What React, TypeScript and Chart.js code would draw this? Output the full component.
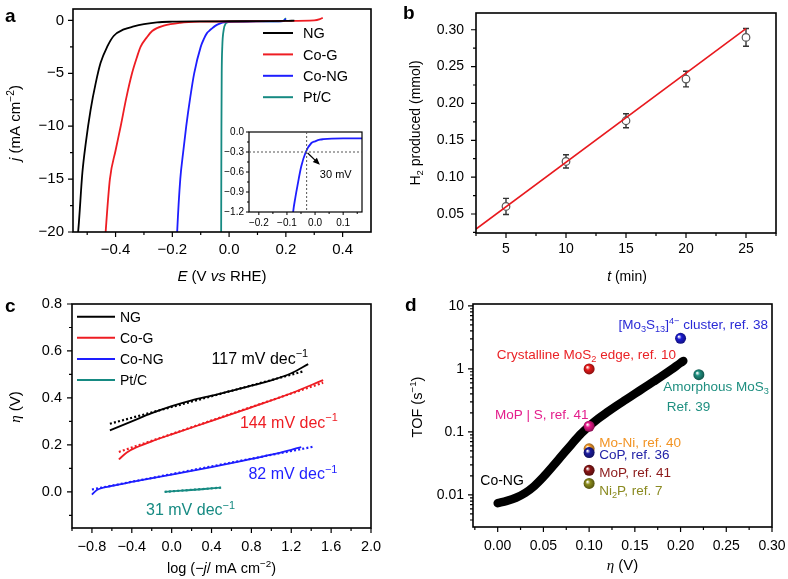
import React, { useEffect, useRef } from 'react';
import { Chart, registerables } from 'chart.js';

Chart.register(...registerables);

const SANS = "'Liberation Sans', Arial, Helvetica, sans-serif";
const SERIF = "'Liberation Serif', 'Times New Roman', serif";

/* ---------------- Panel a : polarisation curves ---------------- */
const aSeries = ['NG', 'Co-G', 'Co-NG', 'Pt/C'];
const aColors = ['#000000', '#ee1d23', '#1e1eff', '#168a82'];
const ngE = [-0.55, -0.532, -0.517, -0.505, -0.488, -0.47, -0.453, -0.429, -0.406, -0.371, -0.336, -0.3, -0.254, -0.2, -0.1, 0.0, 0.1, 0.2, 0.23];
const ngJ = [-23.0, -20.0, -14.4, -11.6, -8.45, -5.93, -4.03, -2.46, -1.45, -0.85, -0.57, -0.36, -0.18, -0.12, -0.09, -0.08, -0.07, -0.05, -0.02];
const coGE = [-0.44, -0.435, -0.42, -0.4, -0.382, -0.362, -0.342, -0.325, -0.312, -0.29, -0.271, -0.23, -0.172, -0.1, 0.0, 0.1, 0.2, 0.3, 0.32, 0.33];
const coGJ = [-22.0, -20.0, -15.0, -12.3, -10.0, -7.3, -5.0, -3.5, -2.5, -1.6, -1.0, -0.5, -0.22, -0.12, -0.1, -0.08, -0.05, 0.0, 0.12, 0.25];
const coNGE = [-0.186, -0.183, -0.172, -0.162, -0.151, -0.137, -0.123, -0.1, -0.088, -0.078, -0.07, -0.063, -0.049, -0.033, -0.013, 0.0, 0.017, 0.03, 0.06, 0.1, 0.167, 0.19, 0.2];
const coNGJ = [-22.0, -20.0, -15.0, -12.5, -10.0, -7.3, -5.0, -2.5, -1.7, -1.2, -0.98, -0.815, -0.515, -0.3, -0.165, -0.14, -0.115, -0.108, -0.1, -0.097, -0.095, -0.07, 0.15];
const ptE = [-0.029, -0.028, -0.027, -0.026, -0.024, -0.019, -0.012, -0.003, 0.006, 0.05, 0.1, 0.15, 0.19, 0.2];
const ptJ = [-22.0, -20.0, -10.0, -5.0, -2.5, -0.9, -0.3, -0.17, -0.13, -0.1, -0.09, -0.08, -0.06, 0.22];
const aXMajor = [-0.4, -0.2, 0.0, 0.2, 0.4];
const aXMinor = [-0.5, -0.3, -0.1, 0.1, 0.3];
const aYMajor = [0, -5, -10, -15, -20];
const aYMinor = [-2.5, -7.5, -12.5, -17.5];
// inset
const insetXMajor = [-0.2, -0.1, 0.0, 0.1];
const insetXMinor = [-0.15, -0.05, 0.05, 0.15];
const insetYMajor = [0.0, -0.3, -0.6, -0.9, -1.2];
const insetYMinor = [-0.15, -0.45, -0.75, -1.05];
const onsetE = -0.03;
const onsetJ = -0.3;
const onsetLabel = '30 mV';

/* ---------------- Panel b : H2 produced ---------------- */
const bTime = [5, 10, 15, 20, 25];
const bH2 = [0.0602, 0.1213, 0.1765, 0.2331, 0.2896];
const bErr = [0.011, 0.009, 0.0095, 0.0106, 0.012];
const bFitT = [2.5, 25];
const bFitH2 = [0.0296, 0.3015];
const bXMajor = [5, 10, 15, 20, 25];
const bXMinor = [2.5, 7.5, 12.5, 17.5, 22.5, 27.5];
const bYMajor = [0.05, 0.1, 0.15, 0.2, 0.25, 0.3];
const bYMinor = [0.025, 0.075, 0.125, 0.175, 0.225, 0.275];

/* ---------------- Panel c : Tafel plots ---------------- */
const cNgX = [-0.62, -0.4, -0.2, 0.0, 0.2, 0.4, 0.6, 0.8, 1.0, 1.2, 1.37];
const cNgY = [0.262, 0.3, 0.335, 0.365, 0.39, 0.41, 0.43, 0.452, 0.475, 0.505, 0.544];
const cNgFitX = [-0.62, 1.33];
const cNgFitY = [0.29, 0.514];
const cCoGX = [-0.53, -0.45, -0.35, -0.2, 0.0, 0.4, 0.8, 1.2, 1.52];
const cCoGY = [0.138, 0.168, 0.19, 0.215, 0.245, 0.302, 0.36, 0.42, 0.476];
const cCoGFitX = [-0.53, 1.52];
const cCoGFitY = [0.17, 0.465];
const cCoNGX = [-0.8, -0.75, -0.6, -0.4, 0.0, 0.4, 0.8, 1.0, 1.3];
const cCoNGY = [-0.012, 0.008, 0.025, 0.042, 0.073, 0.105, 0.14, 0.158, 0.19];
const cCoNGFitX = [-0.8, 1.42];
const cCoNGFitY = [0.01, 0.192];
const cPtX = [-0.07, 0.1, 0.3, 0.49];
const cPtY = [0.0, 0.005, 0.011, 0.018];
const cPtFitX = [-0.07, 0.5];
const cPtFitY = [0.0, 0.018];
const cSlopes = ['117', '144', '82', '31'];
const cSlopeAt = [[0.4, 0.57], [0.685, 0.296], [0.77, 0.078], [-0.257, -0.076]];
const cXMajor = [-0.8, -0.4, 0.0, 0.4, 0.8, 1.2, 1.6, 2.0];
const cXMinor = [-1.0, -0.6, -0.2, 0.2, 0.6, 1.0, 1.4, 1.8];
const cYMajor = [0.0, 0.2, 0.4, 0.6, 0.8];
const cYMinor = [-0.1, 0.1, 0.3, 0.5, 0.7];

/* ---------------- Panel d : TOF ---------------- */
const dEta = [0, 0.01, 0.02, 0.03, 0.04, 0.05, 0.06, 0.07, 0.08, 0.09, 0.1, 0.11, 0.12, 0.13, 0.14, 0.15, 0.16, 0.17, 0.18, 0.19, 0.2, 0.203];
const dTof = [0.00741, 0.00804, 0.00902, 0.01072, 0.0138, 0.01928, 0.02818, 0.04169, 0.06166, 0.09016, 0.123, 0.1622, 0.2065, 0.26, 0.3236, 0.4027, 0.5012, 0.6237, 0.7762, 0.9772, 1.245, 1.334];
const refEta = [0.2, 0.1, 0.22, 0.1, 0.1, 0.1, 0.1, 0.1];
const refTof = [3.05, 1.0, 0.81, 0.123, 0.054, 0.047, 0.0246, 0.0152];
const refColors = ['#1c1cd2', '#e81a1a', '#1f8f80', '#e8198a', '#f59a2a', '#1c1ca0', '#8c1616', '#8c8c1c'];
const refLabelColors = ['#2a2ad6', '#ea2226', '#1f8f80', '#e41e8c', '#f29424', '#2323a8', '#8c1a1a', '#8a8a20'];
const refLabelAt = [[0.132, 5.05], [-0.001, 1.69], [0.181, 0.53], [-0.003, 0.188], [0.111, 0.0684], [0.111, 0.0436], [0.111, 0.0229], [0.111, 0.0121]];
const ref39At = [0.185, 0.255];
const coNGLabelAt = [-0.019, 0.0175];
const dXMajor = [0, 0.05, 0.1, 0.15, 0.2, 0.25, 0.3];
const dXMinor = [-0.025, 0.025, 0.075, 0.125, 0.175, 0.225, 0.275];
const dYMajor = [0.01, 0.1, 1, 10];
const dYMinor = [0.004, 0.005, 0.006, 0.007, 0.008, 0.009, 0.02, 0.03, 0.04, 0.05, 0.06, 0.07, 0.08, 0.09, 0.2, 0.3, 0.4, 0.5, 0.6, 0.7, 0.8, 0.9, 2, 3, 4, 5, 6, 7, 8, 9];

/* ---------------- helpers ---------------- */
type Seg = { t: string; it?: boolean; sup?: boolean; sub?: boolean; serif?: boolean; bold?: boolean };

function fontOf(s: Seg, size: number) {
  const sz = s.sup || s.sub ? size * 0.68 : size;
  return `${s.it ? 'italic ' : ''}${s.bold ? 'bold ' : ''}${sz.toFixed(2)}px ${s.serif ? SERIF : SANS}`;
}
function richWidth(ctx: CanvasRenderingContext2D, segs: Seg[], size: number) {
  let w = 0;
  for (const s of segs) {
    ctx.font = fontOf(s, size);
    w += ctx.measureText(s.t).width;
  }
  return w;
}
function drawRich(ctx: CanvasRenderingContext2D, segs: Seg[], x: number, y: number, size: number, color: string, align = 'left', rot = 0) {
  ctx.save();
  ctx.translate(x, y);
  if (rot) ctx.rotate(rot);
  const w = richWidth(ctx, segs, size);
  let cx = align === 'left' ? 0 : align === 'center' ? -w / 2 : -w;
  ctx.fillStyle = color;
  ctx.textBaseline = 'alphabetic';
  ctx.textAlign = 'left';
  const base = size * 0.36;
  for (const s of segs) {
    ctx.font = fontOf(s, size);
    const dy = s.sup ? -size * 0.42 : s.sub ? size * 0.22 : 0;
    ctx.fillText(s.t, cx, base + dy);
    cx += ctx.measureText(s.t).width;
  }
  ctx.restore();
}
function pts(xs: number[], ys: number[]) {
  return xs.map((x, i) => ({ x, y: ys[i] }));
}
function fmtMinus(s: string) {
  return s.replace('-', '\u2212');
}

interface Geo { cx: number; cy: number; cw: number; ch: number; l: number; t: number; r: number; b: number }

function mkScale(kind: 'x' | 'y', geo: Geo, p: { type?: string; min: number; max: number; major: number[]; minor: number[]; fmt: (v: number) => string; size: number; pad: number }) {
  const isMajor = (v: number) => p.major.some((m) => Math.abs(m - v) <= 1e-7 * Math.max(1e-3, Math.abs(m)));
  const all = [...p.major, ...p.minor].filter((v) => v >= p.min - 1e-9 && v <= p.max + 1e-9).sort((a, b) => a - b);
  return {
    type: p.type || 'linear',
    position: kind === 'x' ? 'bottom' : 'left',
    min: p.min,
    max: p.max,
    grid: { display: false, drawTicks: false },
    border: { display: false },
    title: { display: false },
    afterBuildTicks: (s: any) => {
      s.ticks = all.map((v) => ({ value: v }));
    },
    ticks: {
      autoSkip: false,
      maxRotation: 0,
      minRotation: 0,
      padding: p.pad,
      color: '#000',
      font: { family: SANS, size: p.size },
      callback: (v: any) => (isMajor(Number(v)) ? p.fmt(Number(v)) : ''),
    },
    afterFit: (s: any) => {
      if (kind === 'x') s.height = geo.cy + geo.ch - geo.b;
      else s.width = geo.l - geo.cx;
      s.paddingLeft = 0;
      s.paddingRight = 0;
      s.paddingTop = 0;
      s.paddingBottom = 0;
    },
  };
}

const frameTicks = {
  id: 'frameTicks',
  beforeDraw(chart: any, _a: any, o: any) {
    if (o && o.fill) {
      const a = chart.chartArea;
      chart.ctx.save();
      chart.ctx.fillStyle = '#fff';
      chart.ctx.fillRect(a.left, a.top, a.right - a.left, a.bottom - a.top);
      chart.ctx.restore();
    }
  },
  afterDatasetsDraw(chart: any, _a: any, o: any) {
    const { ctx, chartArea: a } = chart;
    const maj = o.major ?? 5;
    const mnr = o.minor ?? 3;
    ctx.save();
    ctx.strokeStyle = '#000';
    ctx.lineWidth = o.lw ?? 1.2;
    ctx.beginPath();
    const xs = chart.scales.x;
    const ys = chart.scales.y;
    for (const t of xs.ticks) {
      const p = xs.getPixelForValue(t.value);
      const L = t.label ? maj : mnr;
      ctx.moveTo(p, a.bottom);
      ctx.lineTo(p, a.bottom + L);
    }
    for (const t of ys.ticks) {
      const p = ys.getPixelForValue(t.value);
      const L = t.label ? maj : mnr;
      ctx.moveTo(a.left, p);
      ctx.lineTo(a.left - L, p);
    }
    ctx.stroke();
    ctx.lineWidth = o.bw ?? 1.6;
    ctx.strokeRect(a.left, a.top, a.right - a.left, a.bottom - a.top);
    ctx.restore();
  },
};

function baseConfig(geo: Geo, datasets: any[], xs: any, ys: any, extra: (chart: any) => void, frameOpts: any = {}) {
  return {
    type: 'scatter',
    data: { datasets },
    options: {
      responsive: false,
      animation: false,
      devicePixelRatio: 1,
      events: [],
      layout: { autoPadding: false, padding: { left: 0, top: geo.t - geo.cy, right: geo.cx + geo.cw - geo.r, bottom: 0 } },
      plugins: { legend: { display: false }, tooltip: { enabled: false }, frameTicks: frameOpts },
      scales: { x: xs, y: ys },
    },
    plugins: [frameTicks, { id: 'extra', afterDraw: (c: any) => extra(c) }],
  };
}

function lineDs(xs: number[], ys: number[], color: string, width: number, dash: number[] = [], order = 1) {
  return {
    data: pts(xs, ys),
    showLine: true,
    borderColor: color,
    backgroundColor: color,
    borderWidth: width,
    borderDash: dash,
    pointRadius: 0,
    cubicInterpolationMode: 'monotone',
    order,
  };
}

function hLine(ctx: CanvasRenderingContext2D, x1: number, y1: number, x2: number, y2: number, color: string, w: number, dash: number[] = []) {
  ctx.save();
  ctx.strokeStyle = color;
  ctx.lineWidth = w;
  ctx.setLineDash(dash);
  ctx.beginPath();
  ctx.moveTo(x1, y1);
  ctx.lineTo(x2, y2);
  ctx.stroke();
  ctx.restore();
}

/* ---------------- geometry ---------------- */
const GA: Geo = { cx: 0, cy: 0, cw: 394, ch: 290, l: 73, t: 9, r: 371, b: 232 };
const GI: Geo = { cx: 212, cy: 122, cw: 160, ch: 120, l: 249, t: 132, r: 362, b: 212 };
const GB: Geo = { cx: 394, cy: 0, cw: 394, ch: 290, l: 476, t: 13, r: 776, b: 233 };
const GC: Geo = { cx: 0, cy: 290, cw: 394, ch: 289, l: 72, t: 304, r: 371, b: 528 };
const GD: Geo = { cx: 394, cy: 290, cw: 394, ch: 289, l: 473, t: 304, r: 772, b: 527 };

/* ---------------- configs ---------------- */
function configA() {
  const ds = [
    lineDs(ngE, ngJ, aColors[0], 1.8),
    lineDs(coGE, coGJ, aColors[1], 1.8),
    lineDs(coNGE, coNGJ, aColors[2], 1.8),
    lineDs(ptE, ptJ, aColors[3], 1.8),
  ];
  const xs = mkScale('x', GA, { min: -0.55, max: 0.5, major: aXMajor, minor: aXMinor, fmt: (v) => fmtMinus(v.toFixed(1)), size: 15, pad: 9 });
  const ys = mkScale('y', GA, { min: -20, max: 1.08, major: aYMajor, minor: aYMinor, fmt: (v) => fmtMinus(String(v)), size: 15, pad: 9 });
  return baseConfig(GA, ds, xs, ys, (chart) => {
    const { ctx, chartArea: a } = chart;
    aSeries.forEach((name, i) => {
      const y = a.top + 24 + i * 21.4;
      hLine(ctx, a.right - 108, y, a.right - 78, y, aColors[i], 2);
      drawRich(ctx, [{ t: name }], a.right - 68, y, 14.5, '#000');
    });
    drawRich(ctx, [{ t: 'E', it: true }, { t: ' (V ' }, { t: 'vs', it: true }, { t: ' RHE)' }], (a.left + a.right) / 2, 276, 15, '#000', 'center');
    drawRich(ctx, [{ t: 'j', it: true }, { t: ' (mA cm' }, { t: '\u22122', sup: true }, { t: ')' }], 15, 123, 15, '#000', 'center', -Math.PI / 2);
    drawRich(ctx, [{ t: 'a', bold: true }], 5, 15, 19, '#000');
  });
}

function configInset() {
  const ds = [lineDs(coNGE, coNGJ, aColors[2], 1.8)];
  const xs = mkScale('x', GI, { min: -0.235, max: 0.167, major: insetXMajor, minor: insetXMinor, fmt: (v) => fmtMinus(v.toFixed(1)), size: 10, pad: 5 });
  const ys = mkScale('y', GI, { min: -1.2, max: 0.0, major: insetYMajor, minor: insetYMinor, fmt: (v) => fmtMinus(v.toFixed(1)), size: 10, pad: 5 });
  return baseConfig(GI, ds, xs, ys, (chart) => {
    const { ctx, chartArea: a } = chart;
    const sx = chart.scales.x;
    const sy = chart.scales.y;
    const px = sx.getPixelForValue(onsetE);
    const py = sy.getPixelForValue(onsetJ);
    hLine(ctx, a.left, py, a.right, py, '#555', 1, [2, 2]);
    hLine(ctx, px, a.top, px, a.bottom, '#555', 1, [2, 2]);
    const ex = sx.getPixelForValue(0.012);
    const ey = sy.getPixelForValue(-0.47);
    hLine(ctx, px + 1, py + 1, ex, ey, '#000', 1.2);
    const ang = Math.atan2(ey - py, ex - px);
    ctx.save();
    ctx.fillStyle = '#000';
    ctx.beginPath();
    ctx.moveTo(ex + 2 * Math.cos(ang), ey + 2 * Math.sin(ang));
    ctx.lineTo(ex - 5 * Math.cos(ang) + 3 * Math.sin(ang), ey - 5 * Math.sin(ang) - 3 * Math.cos(ang));
    ctx.lineTo(ex - 5 * Math.cos(ang) - 3 * Math.sin(ang), ey - 5 * Math.sin(ang) + 3 * Math.cos(ang));
    ctx.closePath();
    ctx.fill();
    ctx.restore();
    drawRich(ctx, [{ t: onsetLabel }], sx.getPixelForValue(0.017), sy.getPixelForValue(-0.625), 11, '#000');
  }, { fill: true, major: 3, minor: 2, lw: 1, bw: 1.2 });
}

function configB() {
  const ds = [
    lineDs(bFitT, bFitH2, '#e8191e', 1.6, [], 0),
    {
      data: pts(bTime, bH2),
      showLine: false,
      pointRadius: 3.8,
      pointStyle: 'circle',
      backgroundColor: '#ffffff',
      borderColor: '#555',
      borderWidth: 1.2,
      order: 1,
    },
  ];
  const xs = mkScale('x', GB, { min: 2.5, max: 27.5, major: bXMajor, minor: bXMinor, fmt: (v) => String(v), size: 14, pad: 8 });
  const ys = mkScale('y', GB, { min: 0.0242, max: 0.3227, major: bYMajor, minor: bYMinor, fmt: (v) => v.toFixed(2), size: 14, pad: 12 });
  const cfg: any = baseConfig(GB, ds, xs, ys, (chart) => {
    const { ctx, chartArea: a } = chart;
    drawRich(ctx, [{ t: 't', it: true }, { t: ' (min)' }], 233, 276, 14, '#000', 'center');
    drawRich(ctx, [{ t: 'H' }, { t: '2', sub: true }, { t: ' produced (mmol)' }], 21, (a.top + a.bottom) / 2, 14, '#000', 'center', -Math.PI / 2);
    drawRich(ctx, [{ t: 'b', bold: true }], 9, 12, 19, '#000');
  });
  cfg.plugins.push({
    id: 'errbars',
    beforeDatasetsDraw(chart: any) {
      const { ctx } = chart;
      const sx = chart.scales.x;
      const sy = chart.scales.y;
      ctx.save();
      ctx.strokeStyle = '#333';
      ctx.lineWidth = 1.4;
      ctx.beginPath();
      bTime.forEach((t, i) => {
        const x = sx.getPixelForValue(t);
        const y1 = sy.getPixelForValue(bH2[i] + bErr[i]);
        const y2 = sy.getPixelForValue(bH2[i] - bErr[i]);
        ctx.moveTo(x, y1);
        ctx.lineTo(x, y2);
        ctx.moveTo(x - 3, y1);
        ctx.lineTo(x + 3, y1);
        ctx.moveTo(x - 3, y2);
        ctx.lineTo(x + 3, y2);
      });
      ctx.stroke();
      ctx.restore();
    },
  });
  return cfg;
}

function configC() {
  const dot = [2, 2.2];
  const ds = [
    lineDs(cNgX, cNgY, aColors[0], 1.8),
    lineDs(cCoGX, cCoGY, aColors[1], 1.8),
    lineDs(cCoNGX, cCoNGY, aColors[2], 1.8),
    lineDs(cPtX, cPtY, aColors[3], 1.8),
    lineDs(cNgFitX, cNgFitY, aColors[0], 2.2, dot, 0),
    lineDs(cCoGFitX, cCoGFitY, aColors[1], 2.2, dot, 0),
    lineDs(cCoNGFitX, cCoNGFitY, aColors[2], 2.2, dot, 0),
    lineDs(cPtFitX, cPtFitY, aColors[3], 2.2, dot, 0),
  ];
  const xs = mkScale('x', GC, { min: -1.0, max: 2.0, major: cXMajor, minor: cXMinor, fmt: (v) => fmtMinus(v.toFixed(1)), size: 14.5, pad: 10 });
  const ys = mkScale('y', GC, { min: -0.154, max: 0.8, major: cYMajor, minor: cYMinor, fmt: (v) => fmtMinus(v.toFixed(1)), size: 14.5, pad: 10 });
  return baseConfig(GC, ds, xs, ys, (chart) => {
    const { ctx, chartArea: a } = chart;
    const sx = chart.scales.x;
    const sy = chart.scales.y;
    aSeries.forEach((name, i) => {
      const y = a.top + 12.7 + i * 21.1;
      hLine(ctx, a.left + 5, y, a.left + 43, y, aColors[i], 2);
      drawRich(ctx, [{ t: name }], a.left + 48, y, 14, '#000');
    });
    cSlopes.forEach((s, i) => {
      drawRich(ctx, [{ t: `${s} mV dec` }, { t: '\u22121', sup: true }], sx.getPixelForValue(cSlopeAt[i][0]), sy.getPixelForValue(cSlopeAt[i][1]), 16, aColors[i]);
    });
    drawRich(ctx, [{ t: 'log (\u2212' }, { t: 'j', it: true }, { t: '/ mA cm' }, { t: '\u22122', sup: true }, { t: ')' }], (a.left + a.right) / 2, 278, 14.5, '#000', 'center');
    drawRich(ctx, [{ t: '\u03b7', it: true, serif: true }, { t: ' (V)' }], 15, 117, 15, '#000', 'center', -Math.PI / 2);
    drawRich(ctx, [{ t: 'c', bold: true }], 5, 15, 19, '#000');
  });
}

function shade(hex: string, f: number) {
  const n = parseInt(hex.slice(1), 16);
  const r = Math.round(((n >> 16) & 255) * f);
  const g = Math.round(((n >> 8) & 255) * f);
  const b = Math.round((n & 255) * f);
  return `rgb(${r},${g},${b})`;
}

function configD() {
  const ds = [
    {
      ...lineDs(dEta, dTof, '#000', 8.5, [], 1),
      borderCapStyle: 'round',
      borderJoinStyle: 'round',
    },
    {
      data: pts(refEta, refTof),
      showLine: false,
      pointRadius: 5.5,
      borderWidth: 0,
      order: 0,
      backgroundColor: (c: any) => {
        const col = refColors[c.dataIndex] || '#000';
        try {
          const ch = c.chart;
          if (c.type !== 'data' || !ch.scales || !ch.scales.x || !c.raw) return col;
          const px = ch.scales.x.getPixelForValue(c.raw.x);
          const py = ch.scales.y.getPixelForValue(c.raw.y);
          if (!Number.isFinite(px) || !Number.isFinite(py)) return col;
          const g = ch.ctx.createRadialGradient(px - 1.8, py - 1.8, 0.3, px, py, 6);
          g.addColorStop(0, '#ffffff');
          g.addColorStop(0.35, col);
          g.addColorStop(1, shade(col, 0.55));
          return g;
        } catch (e) {
          return col;
        }
      },
    },
  ];
  const xs = mkScale('x', GD, { min: -0.027, max: 0.3, major: dXMajor, minor: dXMinor, fmt: (v) => v.toFixed(2), size: 14, pad: 11 });
  const ys = mkScale('y', GD, { type: 'logarithmic', min: 0.0031, max: 10.7, major: dYMajor, minor: dYMinor, fmt: (v) => String(v), size: 14, pad: 9 });
  return baseConfig(GD, ds, xs, ys, (chart) => {
    const { ctx, chartArea: a } = chart;
    const sx = chart.scales.x;
    const sy = chart.scales.y;
    const S = 13.5;
    const labels: Seg[][] = [
      [{ t: '[Mo' }, { t: '3', sub: true }, { t: 'S' }, { t: '13', sub: true }, { t: ']' }, { t: '4\u2212', sup: true }, { t: ' cluster, ref. 38' }],
      [{ t: 'Crystalline MoS' }, { t: '2', sub: true }, { t: ' edge, ref. 10' }],
      [{ t: 'Amorphous MoS' }, { t: '3', sub: true }],
      [{ t: 'MoP | S, ref. 41' }],
      [{ t: 'Mo-Ni, ref. 40' }],
      [{ t: 'CoP, ref. 36' }],
      [{ t: 'MoP, ref. 41' }],
      [{ t: 'Ni' }, { t: '2', sub: true }, { t: 'P, ref. 7' }],
    ];
    labels.forEach((segs, i) => {
      drawRich(ctx, segs, sx.getPixelForValue(refLabelAt[i][0]), sy.getPixelForValue(refLabelAt[i][1]), S, refLabelColors[i]);
    });
    drawRich(ctx, [{ t: 'Ref. 39' }], sx.getPixelForValue(ref39At[0]), sy.getPixelForValue(ref39At[1]), S, refLabelColors[2]);
    drawRich(ctx, [{ t: 'Co-NG' }], sx.getPixelForValue(coNGLabelAt[0]), sy.getPixelForValue(coNGLabelAt[1]), 14, '#000');
    drawRich(ctx, [{ t: '\u03b7', it: true, serif: true }, { t: ' (V)' }], (a.left + a.right) / 2, 275, 15, '#000', 'center');
    drawRich(ctx, [{ t: 'TOF (s' }, { t: '\u22121', sup: true }, { t: ')' }], 23, 117, 14.5, '#000', 'center', -Math.PI / 2);
    drawRich(ctx, [{ t: 'd', bold: true }], 11, 14, 19, '#000');
  });
}

function ChartCanvas({ geo, make }: { geo: Geo; make: () => any }) {
  const ref = useRef<HTMLCanvasElement>(null);
  useEffect(() => {
    let chart: any = null;
    try {
      chart = new Chart(ref.current as HTMLCanvasElement, make());
    } catch (e) {
      console.error(e);
    }
    return () => {
      if (chart) chart.destroy();
    };
  }, []);
  return (
    <canvas
      ref={ref}
      width={geo.cw}
      height={geo.ch}
      style={{ position: 'absolute', left: geo.cx, top: geo.cy, width: geo.cw, height: geo.ch }}
    />
  );
}

export default function App() {
  return (
    <div style={{ position: 'fixed', left: 0, top: 0, width: 788, height: 579, background: '#fff', overflow: 'hidden' }}>
      <ChartCanvas geo={GA} make={configA} />
      <ChartCanvas geo={GB} make={configB} />
      <ChartCanvas geo={GC} make={configC} />
      <ChartCanvas geo={GD} make={configD} />
      <ChartCanvas geo={GI} make={configInset} />
    </div>
  );
}
